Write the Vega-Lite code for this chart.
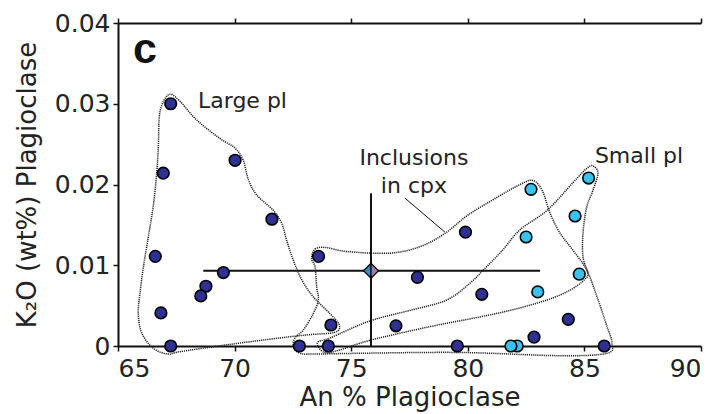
{
  "$schema": "https://vega.github.io/schema/vega-lite/v6.json",
  "width": 583,
  "height": 323,
  "autosize": {"type": "none"},
  "padding": {"left": 118, "top": 23, "right": 16, "bottom": 68},
  "background": "white",
  "config": {
    "view": {"stroke": null},
    "font": "DejaVu Sans",
    "axis": {
      "grid": false,
      "domainColor": "#111",
      "domainWidth": 2,
      "tickColor": "#111",
      "tickWidth": 1.5,
      "tickSize": 5,
      "labelFont": "DejaVu Sans",
      "labelFontSize": 25,
      "labelFontWeight": "normal",
      "labelColor": "#222",
      "titleFont": "DejaVu Sans",
      "titleFontSize": 26,
      "titleFontWeight": "normal",
      "titleColor": "#222"
    }
  },
  "datasets": {
    "contours": [
      {"c": "large", "i": 1, "x": 67.16, "y": 0.0311},
      {"c": "large", "i": 2, "x": 67.59, "y": 0.0305},
      {"c": "large", "i": 3, "x": 68.37, "y": 0.0280},
      {"c": "large", "i": 4, "x": 69.37, "y": 0.0257},
      {"c": "large", "i": 5, "x": 70.02, "y": 0.0245},
      {"c": "large", "i": 6, "x": 70.37, "y": 0.0230},
      {"c": "large", "i": 7, "x": 70.59, "y": 0.0206},
      {"c": "large", "i": 8, "x": 70.95, "y": 0.0187},
      {"c": "large", "i": 9, "x": 71.66, "y": 0.0168},
      {"c": "large", "i": 10, "x": 72.02, "y": 0.0152},
      {"c": "large", "i": 11, "x": 72.23, "y": 0.0131},
      {"c": "large", "i": 12, "x": 72.52, "y": 0.0106},
      {"c": "large", "i": 13, "x": 72.88, "y": 0.0082},
      {"c": "large", "i": 14, "x": 73.37, "y": 0.0061},
      {"c": "large", "i": 15, "x": 74.09, "y": 0.0040},
      {"c": "large", "i": 16, "x": 74.49, "y": 0.0026},
      {"c": "large", "i": 17, "x": 74.30, "y": 0.0017},
      {"c": "large", "i": 18, "x": 73.20, "y": 0.0014},
      {"c": "large", "i": 19, "x": 71.95, "y": 0.0010},
      {"c": "large", "i": 20, "x": 69.80, "y": 0.0002},
      {"c": "large", "i": 21, "x": 67.66, "y": -0.0007},
      {"c": "large", "i": 22, "x": 67.16, "y": -0.0010},
      {"c": "large", "i": 23, "x": 66.52, "y": -0.0003},
      {"c": "large", "i": 24, "x": 66.02, "y": 0.0016},
      {"c": "large", "i": 25, "x": 65.87, "y": 0.0040},
      {"c": "large", "i": 26, "x": 65.94, "y": 0.0065},
      {"c": "large", "i": 27, "x": 66.09, "y": 0.0098},
      {"c": "large", "i": 28, "x": 66.30, "y": 0.0135},
      {"c": "large", "i": 29, "x": 66.51, "y": 0.0173},
      {"c": "large", "i": 30, "x": 66.66, "y": 0.0214},
      {"c": "large", "i": 31, "x": 66.73, "y": 0.0247},
      {"c": "large", "i": 32, "x": 66.80, "y": 0.0290},
      {"c": "incl", "i": 1, "x": 73.30, "y": 0.0108},
      {"c": "incl", "i": 2, "x": 73.45, "y": 0.0120},
      {"c": "incl", "i": 3, "x": 73.90, "y": 0.0122},
      {"c": "incl", "i": 4, "x": 74.82, "y": 0.0117},
      {"c": "incl", "i": 5, "x": 76.66, "y": 0.0115},
      {"c": "incl", "i": 6, "x": 77.95, "y": 0.0123},
      {"c": "incl", "i": 7, "x": 79.00, "y": 0.0139},
      {"c": "incl", "i": 8, "x": 80.00, "y": 0.0162},
      {"c": "incl", "i": 9, "x": 81.25, "y": 0.0184},
      {"c": "incl", "i": 10, "x": 82.24, "y": 0.0200},
      {"c": "incl", "i": 11, "x": 82.80, "y": 0.0205},
      {"c": "incl", "i": 12, "x": 83.20, "y": 0.0192},
      {"c": "incl", "i": 13, "x": 83.52, "y": 0.0165},
      {"c": "incl", "i": 14, "x": 83.95, "y": 0.0140},
      {"c": "incl", "i": 15, "x": 84.50, "y": 0.0119},
      {"c": "incl", "i": 16, "x": 85.10, "y": 0.0094},
      {"c": "incl", "i": 17, "x": 85.54, "y": 0.0061},
      {"c": "incl", "i": 18, "x": 85.97, "y": 0.0024},
      {"c": "incl", "i": 19, "x": 86.18, "y": 0.0004},
      {"c": "incl", "i": 20, "x": 85.97, "y": -0.0009},
      {"c": "incl", "i": 21, "x": 83.95, "y": -0.0012},
      {"c": "incl", "i": 22, "x": 79.67, "y": -0.0008},
      {"c": "incl", "i": 23, "x": 75.38, "y": -0.0009},
      {"c": "incl", "i": 24, "x": 73.36, "y": -0.0010},
      {"c": "incl", "i": 25, "x": 72.80, "y": -0.0009},
      {"c": "incl", "i": 26, "x": 72.52, "y": -0.0001},
      {"c": "incl", "i": 27, "x": 72.59, "y": 0.0010},
      {"c": "incl", "i": 28, "x": 72.95, "y": 0.0020},
      {"c": "incl", "i": 29, "x": 73.37, "y": 0.0040},
      {"c": "incl", "i": 30, "x": 73.59, "y": 0.0057},
      {"c": "incl", "i": 31, "x": 73.52, "y": 0.0073},
      {"c": "incl", "i": 32, "x": 73.45, "y": 0.0098},
      {"c": "small", "i": 1, "x": 73.55, "y": 0.0004},
      {"c": "small", "i": 2, "x": 74.10, "y": 0.0010},
      {"c": "small", "i": 3, "x": 75.80, "y": 0.0031},
      {"c": "small", "i": 4, "x": 77.65, "y": 0.0045},
      {"c": "small", "i": 5, "x": 79.10, "y": 0.0057},
      {"c": "small", "i": 6, "x": 80.10, "y": 0.0078},
      {"c": "small", "i": 7, "x": 80.80, "y": 0.0098},
      {"c": "small", "i": 8, "x": 81.50, "y": 0.0119},
      {"c": "small", "i": 9, "x": 82.24, "y": 0.0144},
      {"c": "small", "i": 10, "x": 83.40, "y": 0.0168},
      {"c": "small", "i": 11, "x": 84.50, "y": 0.0202},
      {"c": "small", "i": 12, "x": 85.10, "y": 0.0220},
      {"c": "small", "i": 13, "x": 85.37, "y": 0.0223},
      {"c": "small", "i": 14, "x": 85.58, "y": 0.0214},
      {"c": "small", "i": 15, "x": 85.37, "y": 0.0193},
      {"c": "small", "i": 16, "x": 85.10, "y": 0.0172},
      {"c": "small", "i": 17, "x": 84.94, "y": 0.0140},
      {"c": "small", "i": 18, "x": 84.94, "y": 0.0110},
      {"c": "small", "i": 19, "x": 85.15, "y": 0.0090},
      {"c": "small", "i": 20, "x": 85.00, "y": 0.0082},
      {"c": "small", "i": 21, "x": 84.38, "y": 0.0069},
      {"c": "small", "i": 22, "x": 83.40, "y": 0.0057},
      {"c": "small", "i": 23, "x": 81.94, "y": 0.0045},
      {"c": "small", "i": 24, "x": 80.52, "y": 0.0036},
      {"c": "small", "i": 25, "x": 78.38, "y": 0.0024},
      {"c": "small", "i": 26, "x": 75.80, "y": 0.0007},
      {"c": "small", "i": 27, "x": 74.50, "y": -0.0005},
      {"c": "small", "i": 28, "x": 73.85, "y": -0.0008}
    ],
    "points": [
      {"x": 67.26, "y": 0.0300, "g": "dark"},
      {"x": 70.02, "y": 0.0230, "g": "dark"},
      {"x": 66.94, "y": 0.0214, "g": "dark"},
      {"x": 71.60, "y": 0.0157, "g": "dark"},
      {"x": 66.60, "y": 0.0111, "g": "dark"},
      {"x": 73.60, "y": 0.0111, "g": "dark"},
      {"x": 69.52, "y": 0.0091, "g": "dark"},
      {"x": 68.77, "y": 0.0074, "g": "dark"},
      {"x": 68.55, "y": 0.0062, "g": "dark"},
      {"x": 66.84, "y": 0.0041, "g": "dark"},
      {"x": 74.13, "y": 0.0026, "g": "dark"},
      {"x": 67.26, "y": 0.0, "g": "dark"},
      {"x": 72.78, "y": 0.0, "g": "dark"},
      {"x": 74.02, "y": 0.0, "g": "dark"},
      {"x": 79.90, "y": 0.0141, "g": "dark"},
      {"x": 77.84, "y": 0.0085, "g": "dark"},
      {"x": 80.60, "y": 0.0064, "g": "dark"},
      {"x": 76.92, "y": 0.0025, "g": "dark"},
      {"x": 84.31, "y": 0.0033, "g": "dark"},
      {"x": 82.84, "y": 0.0011, "g": "dark"},
      {"x": 79.55, "y": 0.0, "g": "dark"},
      {"x": 85.85, "y": 0.0, "g": "dark"},
      {"x": 82.71, "y": 0.0194, "g": "light"},
      {"x": 85.18, "y": 0.0208, "g": "light"},
      {"x": 84.60, "y": 0.0161, "g": "light"},
      {"x": 82.50, "y": 0.0135, "g": "light"},
      {"x": 84.78, "y": 0.0089, "g": "light"},
      {"x": 83.00, "y": 0.0067, "g": "light"},
      {"x": 82.12, "y": 0.0, "g": "light"},
      {"x": 81.85, "y": 0.0, "g": "light"}
    ],
    "mean": [{"x": 75.85, "y": 0.00932, "xlo": 68.66, "xhi": 83.1, "ylo": 0.0, "yhi": 0.0189}],
    "leader": [{"x": 77.31, "y": 0.0183, "x2": 79.02, "y2": 0.0141}],
    "leftlabels": [
      {"x": 68.43, "y": 0.02947, "t": "Large pl"},
      {"x": 85.45, "y": 0.02266, "t": "Small pl"}
    ],
    "centerlabels": [
      {"x": 77.69, "y": 0.02241, "t": "Inclusions"},
      {"x": 77.69, "y": 0.01895, "t": "in cpx"}
    ],
    "panel": [{"x": 65.64, "y": 0.03505, "t": "c"}]
  },
  "layer": [
    {
      "data": {"name": "contours"},
      "mark": {"type": "line", "interpolate": "cardinal-closed", "stroke": "#222", "strokeWidth": 1.5, "strokeDash": [1.2, 0.9]},
      "encoding": {
        "x": {"field": "x", "type": "quantitative", "scale": {"domain": [65, 90], "nice": false},
              "axis": {"orient": "bottom", "values": [65, 70, 75, 80, 85, 90], "title": "An % Plagioclase", "labelPadding": 5, "titlePadding": 3}},
        "y": {"field": "y", "type": "quantitative", "scale": {"domain": [0, 0.04], "nice": false},
              "axis": {"values": [0, 0.01, 0.02, 0.03, 0.04], "labelExpr": "datum.value == 0 ? '0' : format(datum.value, '.2f')", "labelPadding": 3, "title": "K₂O (wt%) Plagioclase", "titlePadding": 14}},
        "detail": {"field": "c", "type": "nominal"},
        "order": {"field": "i", "type": "quantitative"}
      }
    },
    {
      "data": {"name": "mean"},
      "mark": {"type": "rule", "color": "#111", "strokeWidth": 2},
      "encoding": {
        "x": {"field": "xlo", "type": "quantitative", "scale": {"domain": [65, 90], "nice": false},
              "axis": {"orient": "top", "values": [65, 70, 75, 80, 85, 90], "labels": false, "title": null}},
        "x2": {"field": "xhi"},
        "y": {"field": "y", "type": "quantitative", "scale": {"domain": [0, 0.04], "nice": false}, "axis": null}
      }
    },
    {
      "data": {"name": "mean"},
      "mark": {"type": "rule", "color": "#111", "strokeWidth": 2},
      "encoding": {
        "x": {"field": "x", "type": "quantitative", "scale": {"domain": [65, 90], "nice": false}, "axis": null},
        "y": {"field": "ylo", "type": "quantitative", "scale": {"domain": [0, 0.04], "nice": false}, "axis": null},
        "y2": {"field": "yhi"}
      }
    },
    {
      "data": {"name": "leader"},
      "mark": {"type": "rule", "color": "#111", "strokeWidth": 1},
      "encoding": {
        "x": {"field": "x", "type": "quantitative", "scale": {"domain": [65, 90], "nice": false}, "axis": null},
        "y": {"field": "y", "type": "quantitative", "scale": {"domain": [0, 0.04], "nice": false}, "axis": null},
        "x2": {"field": "x2"},
        "y2": {"field": "y2"}
      }
    },
    {
      "data": {"name": "points"},
      "mark": {"type": "point", "filled": true, "size": 135, "stroke": "#000", "strokeWidth": 1.6, "opacity": 1},
      "encoding": {
        "x": {"field": "x", "type": "quantitative", "scale": {"domain": [65, 90], "nice": false}, "axis": null},
        "y": {"field": "y", "type": "quantitative", "scale": {"domain": [0, 0.04], "nice": false}, "axis": null},
        "color": {"field": "g", "type": "nominal", "scale": {"domain": ["dark", "light"], "range": ["#2e3192", "#36c3ee"]}, "legend": null}
      }
    },
    {
      "data": {"name": "mean"},
      "mark": {"type": "point", "shape": "M-1,0L0,-1L0,1Z", "size": 225, "filled": true, "fill": "#2c8ec6", "stroke": "#000", "strokeWidth": 1.2, "opacity": 1},
      "encoding": {
        "x": {"field": "x", "type": "quantitative", "scale": {"domain": [65, 90], "nice": false}, "axis": null},
        "y": {"field": "y", "type": "quantitative", "scale": {"domain": [0, 0.04], "nice": false}, "axis": null}
      }
    },
    {
      "data": {"name": "mean"},
      "mark": {"type": "point", "shape": "M0,-1L1,0L0,1Z", "size": 225, "filled": true, "fill": "#a678a8", "stroke": "#000", "strokeWidth": 1.2, "opacity": 1},
      "encoding": {
        "x": {"field": "x", "type": "quantitative", "scale": {"domain": [65, 90], "nice": false}, "axis": null},
        "y": {"field": "y", "type": "quantitative", "scale": {"domain": [0, 0.04], "nice": false}, "axis": null}
      }
    },
    {
      "data": {"name": "leftlabels"},
      "mark": {"type": "text", "fontSize": 22, "fontWeight": "normal", "color": "#222", "align": "left", "baseline": "alphabetic"},
      "encoding": {
        "x": {"field": "x", "type": "quantitative", "scale": {"domain": [65, 90], "nice": false}, "axis": null},
        "y": {"field": "y", "type": "quantitative", "scale": {"domain": [0, 0.04], "nice": false}, "axis": null},
        "text": {"field": "t", "type": "nominal"}
      }
    },
    {
      "data": {"name": "centerlabels"},
      "mark": {"type": "text", "fontSize": 22, "fontWeight": "normal", "color": "#222", "align": "center", "baseline": "alphabetic"},
      "encoding": {
        "x": {"field": "x", "type": "quantitative", "scale": {"domain": [65, 90], "nice": false}, "axis": null},
        "y": {"field": "y", "type": "quantitative", "scale": {"domain": [0, 0.04], "nice": false}, "axis": null},
        "text": {"field": "t", "type": "nominal"}
      }
    },
    {
      "data": {"name": "panel"},
      "mark": {"type": "text", "font": "Liberation Sans", "fontSize": 43, "fontWeight": "bold", "color": "#111", "align": "left", "baseline": "alphabetic"},
      "encoding": {
        "x": {"field": "x", "type": "quantitative", "scale": {"domain": [65, 90], "nice": false}, "axis": null},
        "y": {"field": "y", "type": "quantitative", "scale": {"domain": [0, 0.04], "nice": false}, "axis": null},
        "text": {"field": "t", "type": "nominal"}
      }
    }
  ],
  "resolve": {"axis": {"x": "independent", "y": "independent"}}
}
